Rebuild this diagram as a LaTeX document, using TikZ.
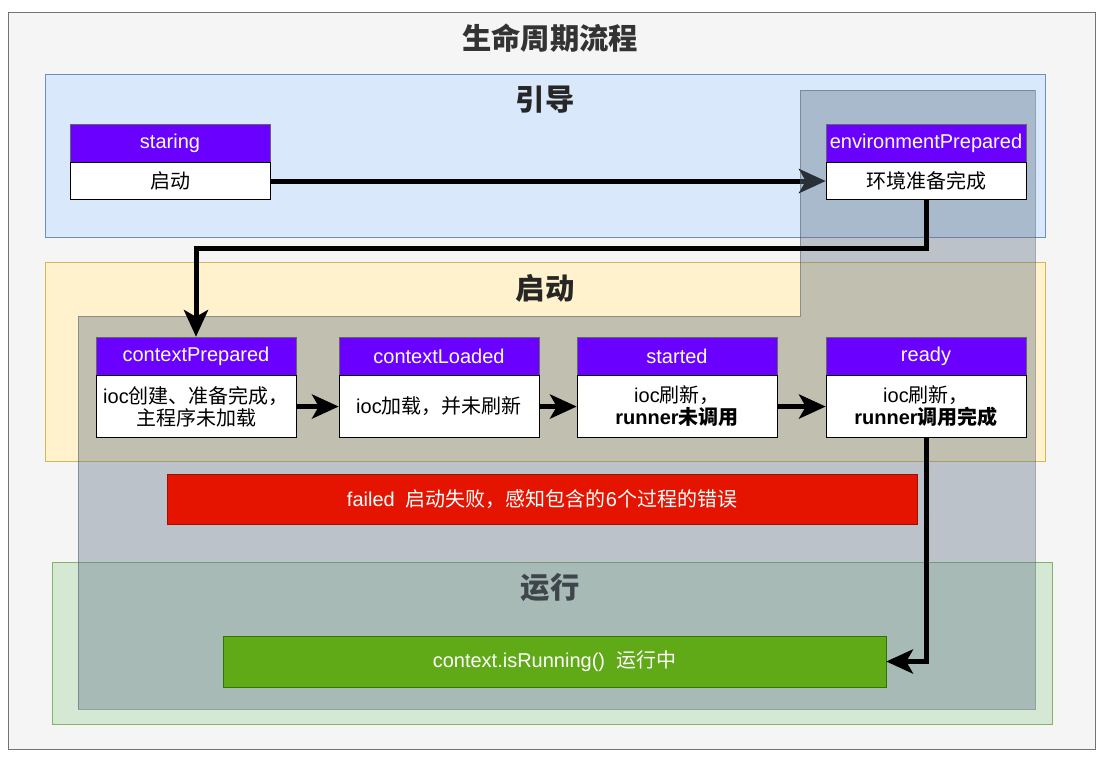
\documentclass[tikz,border=0pt]{standalone}
\usepackage{fontspec}
\setmainfont{Liberation Sans}
\newfontfamily\cjk{Noto Sans CJK SC}
\newcommand{\zh}[1]{{\cjk #1}}
\usetikzlibrary{positioning,arrows.meta}
\definecolor{pagebg}{HTML}{F5F5F5}
\definecolor{bootfill}{HTML}{DAE8FC}
\definecolor{bootline}{HTML}{6C8EBF}
\definecolor{startfill}{HTML}{FFF2CC}
\definecolor{startline}{HTML}{D6B656}
\definecolor{runfill}{HTML}{D5E8D4}
\definecolor{runline}{HTML}{82B366}
\definecolor{shade}{HTML}{647687}
\definecolor{shadeline}{HTML}{314354}
\definecolor{headfill}{HTML}{6A00FF}
\definecolor{failfill}{HTML}{E51400}
\definecolor{okfill}{HTML}{60A917}
\definecolor{okline}{HTML}{2D7600}
\pgfdeclarelayer{bg}
\pgfdeclarelayer{mid}
\pgfsetlayers{bg,mid,main}

\begin{document}
\begin{tikzpicture}[x=0.75pt,y=-0.75pt,
  head/.style={draw=black!60, fill=headfill, text=white, minimum width=150pt, minimum height=28.5pt, inner sep=0pt, font=\fontsize{15}{18}\selectfont},
  body/.style={draw=black, fill=white, minimum width=150pt, inner sep=0pt, align=center, font=\fontsize{15}{16.5}\selectfont},
  sect/.style={font=\fontsize{22}{26}\selectfont\bfseries\cjk, text=black!85},
  flow/.style={line width=3.75pt, -{Stealth[length=20pt,width=18pt,inset=5pt]}}]
  \useasboundingbox (0,0) rectangle (1102,758);

  % titles
  \node[sect, text=black!80] (ttl) at (550,38) {生命周期流程};
  \node[sect] (bootT) at (545,100) {引导};
  \node[sect] (startT) at (545,288) {启动};

  % event boxes
  \node[head] (stH) at (170,143) {staring};
  \node[body, minimum height=27.75pt, below=0pt of stH] (stB) {\zh{启动}};
  \node[head] (epH) at (926,143) {environmentPrepared};
  \node[body, minimum height=27.75pt, below=0pt of epH] (epB) {\zh{环境准备完成}};

  \node[head] (cpH) at (196,356) {contextPrepared};
  \node[body, minimum height=46.5pt, below=0pt of cpH] (cpB) {ioc\zh{创建、准备完成，}\\\zh{主程序未加载}};
  \node[head] (clH) at (439,356) {contextLoaded};
  \node[body, minimum height=46.5pt, below=0pt of clH] (clB) {ioc\zh{加载，并未刷新}};
  \node[head] (saH) at (677,356) {started};
  \node[body, minimum height=46.5pt, below=0pt of saH] (saB) {ioc\zh{刷新，}\\\textbf{runner\zh{未调用}}};
  \node[head] (rdH) at (926,356) {ready};
  \node[body, minimum height=46.5pt, below=0pt of rdH] (rdB) {ioc\zh{刷新，}\\\textbf{runner\zh{调用完成}}};

  \node[draw=failfill!70!black, fill=failfill, text=white, minimum width=562.5pt, minimum height=37.5pt, font=\fontsize{15}{18}\selectfont] (fail) at (542,499) {failed\ \ \zh{启动失败，感知包含的}6\zh{个过程的错误}};
  \node[draw=okline, fill=okfill, text=white, minimum width=497.25pt, minimum height=38.25pt, font=\fontsize{15}{18}\selectfont] (run) at (554.5,661.5) {context.isRunning()\ \ \zh{运行中}};

  % stages
  \begin{pgfonlayer}{bg}
    \draw[draw=black!55, fill=pagebg] (8,12) rectangle (1095,749);
    \draw[draw=bootline, fill=bootfill] (45,74) rectangle (1045,237);
    \draw[draw=startline, fill=startfill] (45,262) rectangle (1045,461);
    \draw[draw=runline, fill=runfill] (52,562) rectangle (1052,724);
    \node[sect] (runT) at (550,588) {运行};
    \draw[flow] (stB) -- (epB);
  \end{pgfonlayer}
  \begin{pgfonlayer}{mid}
    \draw[draw=shadeline, fill=shade, opacity=0.4] (800,90) -- (1035,90) -- (1035,709) -- (78,709) -- (78,316) -- (800,316) -- cycle;
  \end{pgfonlayer}

  % flow
  \draw[flow] (epB.south) -- ++(0,49) -| (cpH.north);
  \draw[flow] (cpB) -- (clB);
  \draw[flow] (clB) -- (saB);
  \draw[flow] (saB) -- (rdB);
  \draw[flow] (rdB.south) |- (run.east);
\end{tikzpicture}
\end{document}
